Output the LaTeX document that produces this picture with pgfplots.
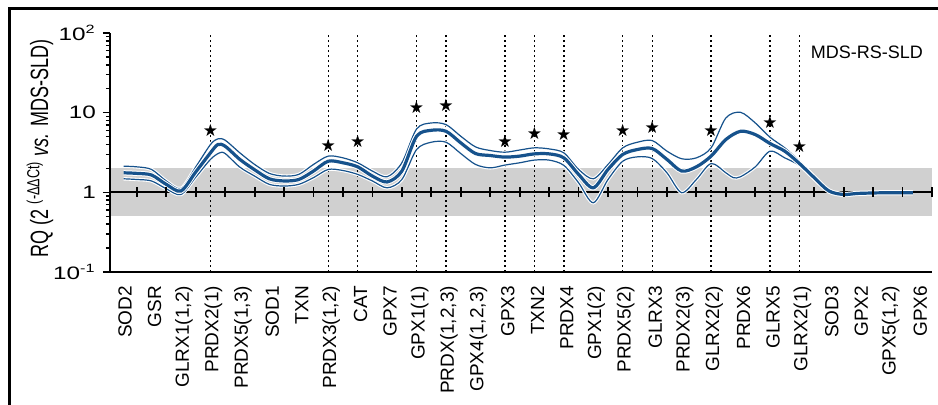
\documentclass[border=0pt]{standalone}
\usepackage{pgfplots}
\pgfplotsset{compat=1.18}
\usepackage{pgfplotstable}
\usepackage{graphicx}
\usepackage{fontspec}
\setmainfont{Liberation Sans}
\newfontfamily\dejavu{DejaVu Sans}
\definecolor{myblue}{RGB}{22,82,140}
\definecolor{bandgray}{RGB}{208,208,208}

\pgfplotstableread{
x y
0.05 1.76
0.5 1.73
1 1.65
1.5 1.26
2 1.04
2.5 1.80
3 3.13
3.25 3.98
3.5 3.79
4 2.59
4.5 1.92
5 1.48
5.5 1.39
6 1.45
6.5 1.85
7 2.46
7.5 2.35
8 2.09
8.5 1.60
9 1.35
9.5 1.85
10 5.06
10.5 6.01
11 5.84
11.5 4.18
12 3.07
12.5 2.90
13 2.77
13.5 2.85
14 3.04
14.5 3.04
15 2.71
15.5 1.68
16 1.14
16.5 1.94
17 2.99
17.5 3.45
18 3.55
18.5 2.59
19 1.85
19.5 2.09
20 2.85
20.5 4.60
21 5.84
21.5 5.31
22 4.10
22.5 3.29
23 2.30
23.5 1.53
24 1.04
24.5 0.94
25 0.97
26 0.99
26.85 0.99
}\meandata

\pgfplotstableread{
x y
0.05 2.13
0.5 2.09
1 1.94
1.5 1.39
2 1.12
2.5 2.08
3 3.98
3.25 4.69
3.5 4.51
4 3.13
4.5 2.24
5 1.73
5.5 1.60
6 1.68
6.5 2.24
7 2.85
7.5 2.71
8 2.35
8.5 1.85
9 1.57
9.5 2.35
10 6.25
10.5 7.43
11 7.08
11.5 5.06
12 3.72
12.5 3.35
13 3.19
13.5 3.40
14 3.62
14.5 3.51
15 3.13
15.5 1.94
16 1.48
16.5 2.24
17 3.62
17.5 4.26
18 4.47
18.5 3.29
19 2.64
19.5 2.71
20 3.62
20.5 8.58
21 10.1
21.5 7.43
22 4.92
22.5 3.62
23 2.46
23.5 1.57
24 1.05
24.5 0.95
25 0.97
26 0.99
26.85 0.99
}\upperdata

\pgfplotstableread{
x y
0.05 1.48
0.5 1.45
1 1.39
1.5 1.11
2 0.94
2.5 1.55
3 2.59
3.3 3.12
3.5 3.07
4 2.07
4.5 1.60
5 1.26
5.5 1.20
6 1.26
6.5 1.53
7 1.94
7.5 1.88
8 1.68
8.5 1.39
9 1.14
9.5 1.45
10 3.45
10.5 4.26
11 4.26
11.5 3.07
12 2.24
12.5 2.03
13 2.20
13.5 2.35
14 2.54
14.5 2.54
15 2.18
15.5 1.32
16 0.74
16.5 1.45
17 2.46
17.5 2.79
18 2.66
18.5 1.76
19 0.99
19.5 1.45
20 2.30
20.5 1.76
20.75 1.53
21 1.57
21.5 2.09
22 3.29
22.5 2.71
23 2.18
23.5 1.48
24 1.03
24.5 0.94
25 0.97
26 0.99
26.85 0.99
}\lowerdata

\pgfplotstableread{
x y
3 5.96
7 3.87
8 4.34
10 11.5
11 12.2
13 4.34
14 5.46
15 5.30
17 5.96
18 6.49
20 5.96
22 7.50
23 3.76
}\stardata

\begin{document}
\begin{tikzpicture}
\path[use as bounding box] (0,0) rectangle (469pt,202pt);
\draw[line width=1.5pt] (4.5pt,-10pt) -- (4.5pt,198pt) -- (480pt,198pt);
\begin{axis}[
  at={(55pt,66pt)}, anchor=south west,
  scale only axis, width=411pt, height=119.5pt,
  xmin=-0.41, xmax=27.5,
  ymode=log, ymin=0.1, ymax=100,
  axis x line*=bottom, axis y line*=left,
  axis line style={line width=1.4pt, -},
  axis on top,
  xtick={0,...,27},
  xticklabels={SOD2,GSR,{GLRX1(1,2)},{PRDX2(1)},{PRDX5(1,3)},SOD1,TXN,{PRDX3(1,2)},CAT,GPX7,{GPX1(1)},{PRDX(1,2,3)},{GPX4(1,2,3)},GPX3,TXN2,PRDX4,{GPX1(2)},{PRDX5(2)},GLRX3,{PRDX2(3)},{GLRX2(2)},PRDX6,GLRX5,{GLRX2(1)},SOD3,GPX2,{GPX5(1,2)},GPX6},
  xticklabel style={rotate=90, anchor=east, font=\fontsize{9.5}{10}\selectfont, yshift=-1.5pt},
  x tick style={draw=none},
  ytick={0.1,1,10,100},
  yticklabels={\scalebox{1.35}[1]{10\textsuperscript{-1}},\scalebox{1.35}[1]{1},\scalebox{1.35}[1]{10},\scalebox{1.35}[1]{10\textsuperscript{2}}},
  yticklabel style={font=\fontsize{9}{10}\selectfont},
  tick align=outside,
  y tick style={line width=0.8pt, black},
  major tick length=3.5pt, minor tick length=2pt,
  ylabel={\scalebox{0.72}[1]{\fontsize{12.5}{14}\selectfont RQ (2 \textsuperscript{(-ΔΔCt)} \textit{vs.} MDS-SLD)}},
  ylabel style={at={(axis description cs:-0.0852,0.517)}, anchor=center},
]
\addplot[fill=bandgray, draw=none, forget plot] coordinates {(-0.41,0.5) (27.5,0.5) (27.5,2) (-0.41,2)} -- cycle;
\pgfplotsset{dotstyle/.style={black, line width=0.7pt, dash pattern=on 1.1pt off 1.4pt, forget plot}}
\addplot[dotstyle] coordinates {(3,0.1) (3,100)};
\addplot[dotstyle] coordinates {(7,0.1) (7,100)};
\addplot[dotstyle] coordinates {(8,0.1) (8,100)};
\addplot[dotstyle] coordinates {(10,0.1) (10,100)};
\addplot[dotstyle] coordinates {(11,0.1) (11,100)};
\addplot[dotstyle] coordinates {(13,0.1) (13,100)};
\addplot[dotstyle] coordinates {(14,0.1) (14,100)};
\addplot[dotstyle] coordinates {(15,0.1) (15,100)};
\addplot[dotstyle] coordinates {(17,0.1) (17,100)};
\addplot[dotstyle] coordinates {(18,0.1) (18,100)};
\addplot[dotstyle] coordinates {(20,0.1) (20,100)};
\addplot[dotstyle] coordinates {(22,0.1) (22,100)};
\addplot[dotstyle] coordinates {(23,0.1) (23,100)};
\addplot[black, line width=0.9pt, forget plot] coordinates {(-0.41,1) (27.5,1)};
\addplot[only marks, mark=|, mark size=2.5pt, mark options={line width=0.9pt, black}, forget plot] coordinates {
(0.5,1) (1.5,1) (2.5,1) (3.5,1) (4.5,1) (5.5,1) (6.5,1) (7.5,1) (8.5,1) (9.5,1) (10.5,1) (11.5,1) (12.5,1) (13.5,1)
(14.5,1) (15.5,1) (16.5,1) (17.5,1) (18.5,1) (19.5,1) (20.5,1) (21.5,1) (22.5,1) (23.5,1) (24.5,1) (25.5,1) (26.5,1) (27.5,1)};
\addplot[white, line width=1.7pt, smooth, forget plot] table {\upperdata};
\addplot[myblue, line width=0.6pt, smooth, forget plot] table {\upperdata};
\addplot[white, line width=1.7pt, smooth, forget plot] table {\lowerdata};
\addplot[myblue, line width=0.6pt, smooth, forget plot] table {\lowerdata};
\addplot[white, line width=2.6pt, smooth, forget plot] table {\meandata};
\addplot[myblue, line width=1.6pt, smooth, forget plot] table {\meandata};
\addplot[only marks, mark=text, text mark={\fontsize{8.5}{8.5}\selectfont\dejavu ★}, forget plot] table {\stardata};
\node[anchor=east, font=\fontsize{9}{10}\selectfont] at (rel axis cs:0.9976,0.9205) {MDS-RS-SLD};
\end{axis}
\end{tikzpicture}
\end{document}
